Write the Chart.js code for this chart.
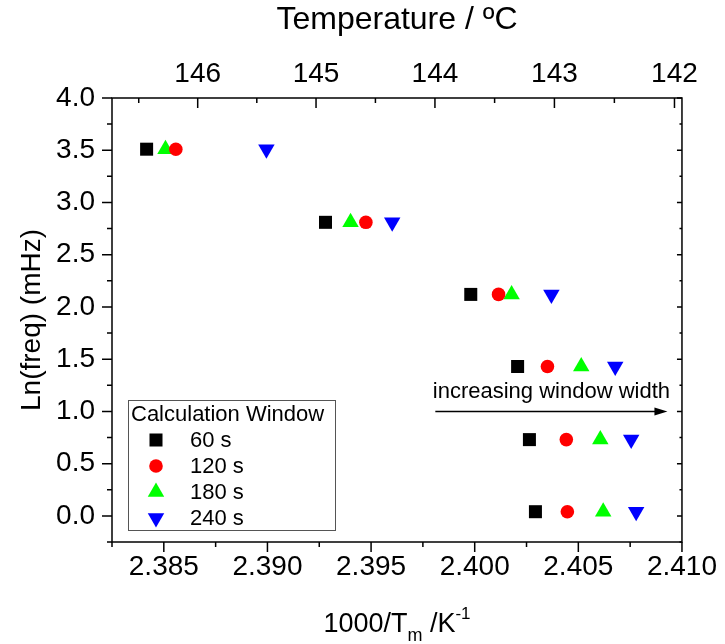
<!DOCTYPE html>
<html>
<head>
<meta charset="utf-8">
<title>Ln(freq) vs 1000/Tm</title>
<script src="https://cdn.jsdelivr.net/npm/chart.js@4.4.1/dist/chart.umd.min.js"></script>
<style>
  body { margin: 0; background: #fff; }
  canvas { display: block; }
</style>
</head>
<body>
<canvas id="plot" width="725" height="644"></canvas>
<script>
// ln of frequency (mHz), one value per row of points
const lnFreq = [3.51, 2.81, 2.12, 1.43, 0.73, 0.04];

// 1000/Tm read for each calculation window, same row order as lnFreq
const win60  = [2.38417, 2.39280, 2.39981, 2.40207, 2.40264, 2.40293];
const win120 = [2.38558, 2.39475, 2.40115, 2.40351, 2.40442, 2.40447];
const win180 = [2.38508, 2.39401, 2.40178, 2.40514, 2.40606, 2.40620];
const win240 = [2.38995, 2.39602, 2.40370, 2.40678, 2.40755, 2.40779];

const windowLabels = ['60 s', '120 s', '180 s', '240 s'];

const xTicks = [2.385, 2.390, 2.395, 2.400, 2.405, 2.410];
const yTicks = [0.0, 0.5, 1.0, 1.5, 2.0, 2.5, 3.0, 3.5, 4.0];
const tempTicks = [146, 145, 144, 143, 142];   // top axis, ºC

const FONT = '"Liberation Sans", Arial, Helvetica, sans-serif';

const toPoints = (xs) => xs.map((x, i) => ({ x: x, y: lnFreq[i] }));

// top axis uses 1000/(T+273)
const invT = (t) => 1000 / (t + 273);

function drawMarker(ctx, style, rot, r, x, y, color) {
    ctx.fillStyle = color;
    ctx.beginPath();
    if (style === 'rect') {
        const s = r * Math.SQRT1_2;
        ctx.rect(x - s, y - s, 2 * s, 2 * s);
    } else if (style === 'circle') {
        ctx.arc(x, y, r, 0, Math.PI * 2);
    } else {
        const d = rot ? -1 : 1;
        ctx.moveTo(x, y - d * r);
        ctx.lineTo(x + r * 0.866, y + d * r / 2);
        ctx.lineTo(x - r * 0.866, y + d * r / 2);
        ctx.closePath();
    }
    ctx.fill();
}

// frame + origin style ticks (out on left/bottom, in on top/right)
const frameTicks = {
    id: 'frameTicks',
    afterDraw(chart) {
        const { ctx, chartArea: a, scales } = chart;
        const yMinor = yTicks.map(v => v - 0.25);
        const xMinor = xTicks.map(v => v - 0.0025);
        const tMinor = tempTicks.map(t => t + 0.5);
        ctx.save();
        ctx.strokeStyle = '#000';
        ctx.lineWidth = 1.5;
        ctx.strokeRect(a.left, a.top, a.right - a.left, a.bottom - a.top);
        ctx.beginPath();
        const yTick = (v, len) => {
            const p = scales.y.getPixelForValue(v);
            ctx.moveTo(a.left - len, p); ctx.lineTo(a.left, p);
            ctx.moveTo(a.right - len / 2, p); ctx.lineTo(a.right, p);
        };
        yTicks.forEach(v => yTick(v, 10));
        yMinor.forEach(v => yTick(v, 5));
        const xTick = (v, len) => {
            const p = scales.x.getPixelForValue(v);
            ctx.moveTo(p, a.bottom); ctx.lineTo(p, a.bottom + len);
        };
        xTicks.forEach(v => xTick(v, 10));
        xMinor.forEach(v => xTick(v, 5));
        const tTick = (t, len) => {
            const p = scales.x2.getPixelForValue(invT(t));
            if (p < a.left || p > a.right) return;
            ctx.moveTo(p, a.top); ctx.lineTo(p, a.top + len);
        };
        tempTicks.forEach(t => tTick(t, 10));
        tMinor.forEach(t => tTick(t, 5));
        ctx.stroke();

        // bottom axis title with subscript / superscript
        const cx = (a.left + a.right) / 2;
        const parts = [
            { t: '1000/T', size: 27, dy: 0 },
            { t: 'm', size: 18, dy: 9 },
            { t: ' /K', size: 27, dy: 0 },
            { t: '-1', size: 17, dy: -13 }
        ];
        let total = 0;
        parts.forEach(p => {
            ctx.font = p.size + 'px ' + FONT;
            p.w = ctx.measureText(p.t).width;
            total += p.w;
        });
        let px = cx - total / 2;
        ctx.fillStyle = '#000';
        ctx.textBaseline = 'alphabetic';
        ctx.textAlign = 'left';
        parts.forEach(p => {
            ctx.font = p.size + 'px ' + FONT;
            ctx.fillText(p.t, px, 632 + p.dy);
            px += p.w;
        });
        ctx.restore();
    }
};

// arrow note + legend box
const notes = {
    id: 'notes',
    afterDraw(chart) {
        const { ctx, scales } = chart;
        const x0 = scales.x.getPixelForValue(2.3981);
        const x1 = scales.x.getPixelForValue(2.4093);
        const ya = scales.y.getPixelForValue(1.0);
        ctx.save();
        ctx.strokeStyle = '#000';
        ctx.fillStyle = '#000';
        ctx.lineWidth = 1.5;
        ctx.beginPath();
        ctx.moveTo(x0, ya); ctx.lineTo(x1 - 10, ya);
        ctx.stroke();
        ctx.beginPath();
        ctx.moveTo(x1, ya); ctx.lineTo(x1 - 13, ya - 4); ctx.lineTo(x1 - 13, ya + 4);
        ctx.closePath(); ctx.fill();
        ctx.font = '22px ' + FONT;
        ctx.textAlign = 'center';
        ctx.textBaseline = 'alphabetic';
        ctx.fillText('increasing window width', (x0 + x1) / 2, scales.y.getPixelForValue(1.13));

        // legend
        const bx = 128, by = 400, bw = 207, bh = 130;
        ctx.fillStyle = '#fff';
        ctx.fillRect(bx, by, bw, bh);
        ctx.strokeStyle = '#555';
        ctx.lineWidth = 1;
        ctx.strokeRect(bx + 0.5, by + 0.5, bw, bh);
        ctx.fillStyle = '#000';
        ctx.textAlign = 'left';
        ctx.fillText('Calculation Window', bx + 3, by + 21);
        ctx.textBaseline = 'middle';
        chart.data.datasets.forEach((ds, i) => {
            const ly = by + 40 + i * 26;
            drawMarker(ctx, ds.pointStyle, ds.pointRotation, ds.pointRadius, bx + 28, ly, ds.backgroundColor);
            ctx.fillStyle = '#000';
            ctx.fillText(windowLabels[i], bx + 62, ly + 1);
        });
        ctx.restore();
    }
};

const tickFont = { family: FONT, size: 28 };

new Chart(document.getElementById('plot'), {
    type: 'scatter',
    data: {
        datasets: [
            { label: windowLabels[0], data: toPoints(win60),  pointStyle: 'rect',     pointRotation: 0,   pointRadius: 9.2, backgroundColor: '#000000', borderColor: '#000000' },
            { label: windowLabels[1], data: toPoints(win120), pointStyle: 'circle',   pointRotation: 0,   pointRadius: 6.8, backgroundColor: '#ff0000', borderColor: '#ff0000' },
            { label: windowLabels[2], data: toPoints(win180), pointStyle: 'triangle', pointRotation: 0,   pointRadius: 9.5, backgroundColor: '#00ff00', borderColor: '#00ff00' },
            { label: windowLabels[3], data: toPoints(win240), pointStyle: 'triangle', pointRotation: 180, pointRadius: 9.5, backgroundColor: '#0000ff', borderColor: '#0000ff' }
        ]
    },
    options: {
        responsive: false,
        animation: false,
        layout: { padding: { left: 0, right: 41, top: 0, bottom: 0 } },
        elements: { point: { borderWidth: 0, hoverRadius: 9 } },
        plugins: { legend: { display: false }, tooltip: { enabled: false } },
        scales: {
            x: {
                type: 'linear', position: 'bottom', min: 2.3825, max: 2.410,
                afterBuildTicks: (s) => { s.ticks = xTicks.map(v => ({ value: v })); },
                afterFit: (s) => { s.height = 102; },
                grid: { display: false, drawTicks: false },
                border: { display: false },
                ticks: { padding: 8, color: '#000', font: tickFont, autoSkip: false, maxRotation: 0,
                         callback: (v) => v.toFixed(3) }
            },
            x2: {
                type: 'linear', position: 'top', min: 2.3825, max: 2.410,
                afterBuildTicks: (s) => { s.ticks = tempTicks.map(t => ({ value: invT(t) })); },
                afterFit: (s) => { s.height = 98; },
                grid: { display: false, drawTicks: false },
                border: { display: false },
                ticks: { padding: 7, color: '#000', font: tickFont, autoSkip: false, maxRotation: 0,
                         callback: (v, i) => tempTicks[i] },
                title: { display: true, text: 'Temperature / ºC', color: '#000',
                         font: { family: FONT, size: 32 }, padding: { top: 1, bottom: 0 } }
            },
            y: {
                type: 'linear', position: 'left', min: -0.25, max: 4.0,
                afterBuildTicks: (s) => { s.ticks = yTicks.map(v => ({ value: v })); },
                afterFit: (s) => { s.width = 112; },
                grid: { display: false, drawTicks: false },
                border: { display: false },
                ticks: { padding: 17, color: '#000', font: tickFont, callback: (v) => v.toFixed(1) },
                title: { display: true, text: 'Ln(freq) (mHz)', color: '#000',
                         font: { family: FONT, size: 28 }, padding: { top: 15, bottom: 0 } }
            }
        }
    },
    plugins: [frameTicks, notes]
});
</script>
</body>
</html>
